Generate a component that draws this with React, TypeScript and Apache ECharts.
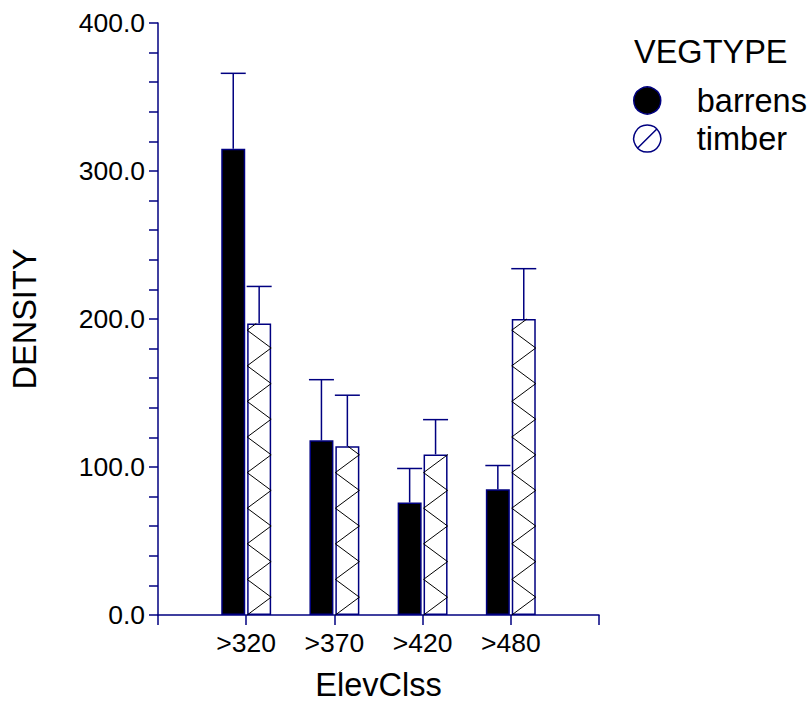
import React, { useEffect, useRef } from 'react';
import * as echarts from 'echarts';

const categories = ['', '>320', '>370', '>420', '>480', ''];
const barrensMean = [null, 315, 118, 76, 85, null];
const barrensUpper = [null, 366, 159, 99, 101, null];
const timberMean = [null, 197, 114, 108.5, 200, null];
const timberUpper = [null, 222, 148.5, 132, 234, null];
const yMin = 0;
const yMax = 400;
const yInterval = 100;

const NAVY = '#000080';
const FONT = '"Liberation Sans", Arial, Helvetica, sans-serif';
const BIG = 32.5;
const TICK = 26.5;
const BAR_W = 24;
const BAR_GAP_PCT = 8;
const HALF = (BAR_W + (BAR_W * BAR_GAP_PCT) / 100) / 2;

function errData(mean: (number | null)[], upper: (number | null)[]) {
  const out: number[][] = [];
  mean.forEach((m, i) => {
    const u = upper[i];
    if (m != null && u != null) out.push([i, m, u]);
  });
  return out;
}

function errorRender(offset: number) {
  return (params: any, api: any) => {
    const idx = api.value(0);
    const p0 = api.coord([idx, api.value(1)]);
    const p1 = api.coord([idx, api.value(2)]);
    const x = p0[0] + offset;
    const st = { stroke: NAVY, lineWidth: 1.5 };
    return {
      type: 'group',
      children: [
        { type: 'line', shape: { x1: x, y1: p0[1], x2: x, y2: p1[1] }, style: st },
        { type: 'line', shape: { x1: x - BAR_W / 2 - 0.5, y1: p1[1], x2: x + BAR_W / 2 + 0.5, y2: p1[1] }, style: st },
      ],
    };
  };
}

function hatchRender(params: any, api: any) {
  const idx = api.value(0);
  const base = api.coord([idx, 0]);
  const top = api.coord([idx, api.value(1)]);
  const xl = base[0] + HALF - BAR_W / 2;
  const xr = xl + BAR_W;
  const step = 17.8;
  const pts: number[][] = [[xl, base[1]]];
  let y = base[1];
  let atLeft = true;
  for (let k = 0; k < 200; k++) {
    const cx = atLeft ? xl : xr;
    const nx = atLeft ? xr : xl;
    const ny = y - step;
    if (ny <= top[1]) {
      const t = (y - top[1]) / step;
      pts.push([cx + (nx - cx) * t, top[1]]);
      break;
    }
    pts.push([nx, ny]);
    y = ny;
    atLeft = !atLeft;
  }
  return {
    type: 'polyline',
    shape: { points: pts },
    style: { stroke: '#000', lineWidth: 1, fill: null },
  };
}

export default function App() {
  const ref = useRef<HTMLDivElement>(null);
  useEffect(() => {
    if (!ref.current) return;
    const chart = echarts.init(ref.current, undefined, { renderer: 'svg' });
    chart.setOption({
      animation: false,
      backgroundColor: '#fff',
      textStyle: { fontFamily: FONT },
      title: {
        text: 'VEGTYPE',
        left: 634,
        top: 35,
        padding: 0,
        textStyle: { fontSize: BIG, fontWeight: 'normal', color: '#000', fontFamily: FONT },
      },
      legend: {
        orient: 'vertical',
        left: 633,
        top: 84,
        padding: 0,
        itemWidth: 27,
        itemHeight: 27,
        itemGap: 5,
        selectedMode: false,
        textStyle: { fontSize: BIG, color: '#000', fontFamily: FONT, padding: [0, 0, 0, 31] },
        data: [
          { name: 'barrens', icon: 'circle', itemStyle: { color: '#000', borderColor: NAVY, borderWidth: 1.5 } },
          {
            name: 'timber',
            icon: 'path://M50,2 A48,48 0 1,1 49.9,2 Z M16,84 L84,16',
            itemStyle: { color: '#fff', borderColor: NAVY, borderWidth: 1.5 },
          },
        ],
      },
      grid: { left: 156, top: 23, right: 211, bottom: 87, containLabel: false },
      xAxis: {
        type: 'category',
        data: categories,
        boundaryGap: false,
        name: 'ElevClss',
        nameLocation: 'middle',
        nameGap: 53,
        nameTextStyle: { fontSize: BIG, color: '#000', fontFamily: FONT },
        axisLine: { show: true, lineStyle: { color: NAVY, width: 1.5 } },
        axisTick: { show: true, interval: 0, length: 10, inside: false, lineStyle: { color: NAVY, width: 1.5 } },
        axisLabel: { interval: 0, fontSize: TICK, color: '#000', margin: 14, fontFamily: FONT },
        splitLine: { show: false },
      },
      yAxis: {
        type: 'value',
        min: yMin,
        max: yMax,
        interval: yInterval,
        name: 'DENSITY',
        nameLocation: 'middle',
        nameGap: 117,
        nameTextStyle: { fontSize: BIG, color: '#000', fontFamily: FONT },
        axisLine: { show: true, lineStyle: { color: NAVY, width: 1.5 } },
        axisTick: { show: true, length: 9, inside: false, lineStyle: { color: NAVY, width: 1.5 } },
        minorTick: { show: true, splitNumber: 5, length: 9, lineStyle: { color: NAVY, width: 1.5 } },
        axisLabel: {
          fontSize: TICK,
          color: '#000',
          margin: 13,
          fontFamily: FONT,
          formatter: (v: number) => v.toFixed(1),
        },
        splitLine: { show: false },
      },
      series: [
        {
          name: 'barrens',
          type: 'bar',
          data: barrensMean.map((v) => (v == null ? '-' : v)),
          barWidth: BAR_W,
          barGap: BAR_GAP_PCT + '%',
          itemStyle: { color: '#000', borderColor: NAVY, borderWidth: 1.5 },
          z: 2,
        },
        {
          name: 'timber',
          type: 'bar',
          data: timberMean.map((v) => (v == null ? '-' : v)),
          barWidth: BAR_W,
          barGap: BAR_GAP_PCT + '%',
          itemStyle: { color: '#fff', borderColor: NAVY, borderWidth: 1.5 },
          z: 2,
        },
        {
          name: 'timberHatch',
          type: 'custom',
          renderItem: hatchRender,
          data: errData(timberMean, timberUpper).map((d) => [d[0], d[1]]),
          encode: { x: 0, y: 1 },
          z: 3,
          silent: true,
        },
        {
          name: 'barrensErr',
          type: 'custom',
          renderItem: errorRender(-HALF),
          data: errData(barrensMean, barrensUpper),
          encode: { x: 0, y: [1, 2] },
          z: 4,
          silent: true,
        },
        {
          name: 'timberErr',
          type: 'custom',
          renderItem: errorRender(HALF),
          data: errData(timberMean, timberUpper),
          encode: { x: 0, y: [1, 2] },
          z: 4,
          silent: true,
        },
      ],
    });
    return () => chart.dispose();
  }, []);
  return (
    <div
      ref={ref}
      style={{ position: 'fixed', left: 0, top: 0, width: 810, height: 706, background: '#fff' }}
    />
  );
}
